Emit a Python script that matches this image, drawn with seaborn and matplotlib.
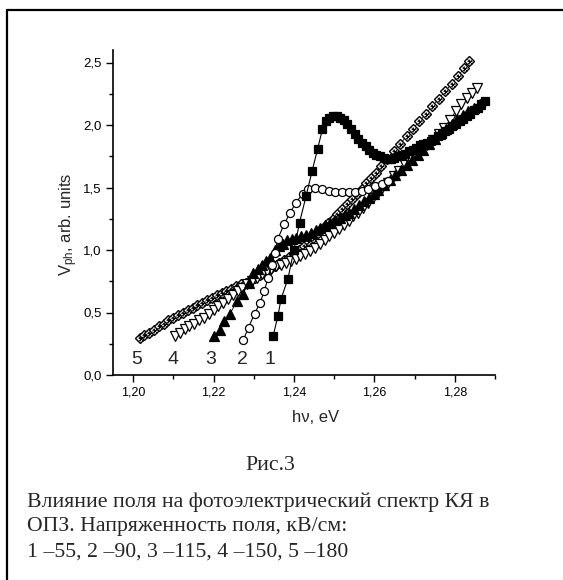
import numpy as np
import pandas as pd
import seaborn as sns
import matplotlib
matplotlib.use('Agg')
import matplotlib.pyplot as plt
from matplotlib.lines import Line2D
from matplotlib.ticker import MultipleLocator, FuncFormatter

# dados --------------------------------------------------------------------------
x1 = [1.2348, 1.2360, 1.2368, 1.2385, 1.2400, 1.2414, 1.2430, 1.2445, 1.2459, 1.2471,
      1.2480, 1.2488, 1.2497, 1.2506, 1.2515, 1.2524, 1.2533, 1.2542, 1.2551, 1.2560,
      1.2569, 1.2578, 1.2587, 1.2596, 1.2605, 1.2614, 1.2623, 1.2632, 1.2641, 1.2650,
      1.2659, 1.2668, 1.2677, 1.2686, 1.2695, 1.2704, 1.2713, 1.2722, 1.2731, 1.2740,
      1.2749, 1.2758, 1.2767, 1.2776, 1.2785, 1.2794, 1.2803, 1.2812, 1.2821, 1.2830,
      1.2839, 1.2848, 1.2857, 1.2866, 1.2875]
y1 = [0.31, 0.47, 0.61, 0.77, 1.00, 1.22, 1.43, 1.63, 1.81, 1.97,
      2.03, 2.06, 2.07, 2.07, 2.06, 2.04, 2.01, 1.97, 1.93, 1.89,
      1.86, 1.83, 1.80, 1.78, 1.76, 1.75, 1.74, 1.73, 1.73, 1.74,
      1.75, 1.76, 1.77, 1.79, 1.80, 1.82, 1.84, 1.85, 1.86, 1.87,
      1.89, 1.91, 1.93, 1.95, 1.97, 1.99, 2.01, 2.03, 2.05, 2.07,
      2.09, 2.12, 2.14, 2.17, 2.19]

x2 = [1.2274, 1.2287, 1.2302, 1.2316, 1.2326, 1.2336, 1.2345, 1.2352, 1.2360, 1.2376,
      1.2391, 1.2405, 1.2422, 1.2436, 1.2453, 1.2470, 1.2486, 1.2502, 1.2519, 1.2536,
      1.2552, 1.2569, 1.2585, 1.2602, 1.2619, 1.2635]
y2 = [0.28, 0.38, 0.49, 0.58, 0.67, 0.78, 0.88, 0.98, 1.09, 1.21,
      1.30, 1.38, 1.45, 1.485, 1.493, 1.485, 1.475, 1.467, 1.467, 1.467,
      1.467, 1.475, 1.49, 1.51, 1.53, 1.555]

x3 = [1.2202, 1.2215, 1.2227, 1.2241, 1.2258, 1.2274, 1.2287, 1.2299, 1.2310, 1.2320,
      1.2330, 1.2341, 1.2353, 1.2362, 1.2372, 1.2382, 1.2394, 1.2406, 1.2418, 1.2430,
      1.2442, 1.2454, 1.2466, 1.2478, 1.2490, 1.2502, 1.2514, 1.2526, 1.2538, 1.2550,
      1.2562, 1.2574, 1.2586, 1.2598, 1.2610, 1.2624, 1.2638, 1.2652, 1.2666, 1.2680,
      1.2694, 1.2708, 1.2722, 1.2736, 1.2750, 1.2764, 1.2778, 1.2792, 1.2806, 1.2820,
      1.2834, 1.2848, 1.2862]
y3 = [0.31, 0.36, 0.43, 0.49, 0.59, 0.65, 0.74, 0.82, 0.85, 0.88,
      0.91, 0.94, 1.00, 1.03, 1.05, 1.08, 1.09, 1.10, 1.11, 1.12,
      1.14, 1.16, 1.18, 1.20, 1.22, 1.24, 1.26, 1.28, 1.30, 1.33,
      1.36, 1.39, 1.42, 1.45, 1.48, 1.52, 1.56, 1.60, 1.64, 1.68,
      1.72, 1.76, 1.80, 1.85, 1.89, 1.93, 1.97, 2.01, 2.05, 2.08,
      2.11, 2.14, 2.17]

x4 = [1.2104, 1.2116, 1.2128, 1.2140, 1.2152, 1.2164, 1.2176, 1.2188, 1.2200, 1.2212,
      1.2224, 1.2236, 1.2248, 1.2260, 1.2272, 1.2284, 1.2296, 1.2308, 1.2320, 1.2332,
      1.2344, 1.2356, 1.2368, 1.2380, 1.2392, 1.2404, 1.2416, 1.2428, 1.2440, 1.2452,
      1.2464, 1.2476, 1.2488, 1.2500, 1.2512, 1.2524, 1.2536, 1.2548, 1.2560, 1.2572,
      1.2584, 1.2596, 1.2608, 1.2620, 1.2634, 1.2648, 1.2662, 1.2676, 1.2690, 1.2704,
      1.2718, 1.2732, 1.2746, 1.2760, 1.2774, 1.2788, 1.2802, 1.2816, 1.2830, 1.2844,
      1.2856]
y4 = [0.31, 0.34, 0.37, 0.39, 0.41, 0.44, 0.46, 0.49, 0.52, 0.55,
      0.58, 0.61, 0.64, 0.67, 0.70, 0.73, 0.75, 0.78, 0.81, 0.83,
      0.85, 0.87, 0.88, 0.90, 0.91, 0.93, 0.95, 0.97, 0.99, 1.02,
      1.05, 1.08, 1.11, 1.14, 1.17, 1.20, 1.23, 1.27, 1.30, 1.34,
      1.38, 1.42, 1.46, 1.50, 1.54, 1.59, 1.63, 1.68, 1.72, 1.76,
      1.80, 1.84, 1.88, 1.93, 1.98, 2.04, 2.11, 2.17, 2.22, 2.26,
      2.30]

x5 = [1.2017, 1.2028, 1.2040, 1.2052, 1.2064, 1.2076, 1.2088, 1.2100, 1.2112, 1.2124,
      1.2136, 1.2148, 1.2160, 1.2172, 1.2184, 1.2196, 1.2208, 1.2220, 1.2232, 1.2244,
      1.2256, 1.2268, 1.2280, 1.2292, 1.2304, 1.2316, 1.2328, 1.2340, 1.2352, 1.2364,
      1.2376, 1.2388, 1.2400, 1.2412, 1.2424, 1.2436, 1.2448, 1.2460, 1.2472, 1.2484,
      1.2496, 1.2508, 1.2520, 1.2532, 1.2544, 1.2556, 1.2568, 1.2580, 1.2592, 1.2604,
      1.2616, 1.2632, 1.2648, 1.2664, 1.2680, 1.2696, 1.2712, 1.2728, 1.2744, 1.2760,
      1.2776, 1.2792, 1.2808, 1.2824, 1.2836]
y5 = [0.30, 0.32, 0.34, 0.36, 0.39, 0.41, 0.44, 0.46, 0.48, 0.50,
      0.52, 0.54, 0.56, 0.58, 0.60, 0.62, 0.64, 0.655, 0.675, 0.69,
      0.71, 0.725, 0.74, 0.76, 0.78, 0.80, 0.82, 0.845, 0.87, 0.895,
      0.92, 0.945, 0.97, 1.00, 1.03, 1.07, 1.10, 1.14, 1.18, 1.22,
      1.25, 1.29, 1.33, 1.37, 1.41, 1.45, 1.49, 1.54, 1.58, 1.62,
      1.67, 1.73, 1.79, 1.85, 1.91, 1.97, 2.03, 2.09, 2.15, 2.21,
      2.27, 2.33, 2.39, 2.46, 2.51]

rotulos = ['5', '4', '3', '2', '1']
rotulos_x = [1.2009, 1.2098, 1.2194, 1.2272, 1.2341]
rotulos_y = 0.12

legenda = ['Рис.3',
           'Влияние поля на фотоэлектрический спектр КЯ в',
           'ОПЗ. Напряженность поля, кВ/см:',
           '1 –55, 2 –90, 3 –115, 4 –150, 5 –180']

# gráfico -------------------------------------------------------------------------
W, H = 563, 580
sns.set_style('ticks')
plt.rcParams['font.family'] = ['Liberation Sans', 'DejaVu Sans']
plt.rcParams['mathtext.default'] = 'regular'

fig = plt.figure(figsize=(W / 100, H / 100), dpi=100)
fig.patch.set_facecolor('white')

def fx(px):
    return px / W

def fy(py):
    return 1 - py / H

ax = fig.add_axes([fx(113), fy(375), fx(495) - fx(113), fy(50) - fy(375)])

def curva(x, y, marker, face, ms, lw=0.8, mew=0.9):
    sns.lineplot(x=x, y=y, ax=ax, sort=False, estimator=None, color='black',
                 linewidth=lw, marker=marker, markersize=ms,
                 markerfacecolor=face, markeredgecolor='black', markeredgewidth=mew)

# curva 5: losango com cruz
curva(x5, y5, 'D', 'white', 4.6, lw=0.6, mew=1.0)
for m in ['+', 'x']:
    sns.lineplot(x=x5, y=y5, ax=ax, sort=False, estimator=None, color='black', linewidth=0,
                 marker=m, markersize=3.6, markeredgewidth=0.6, markeredgecolor='black')
curva(x4, y4, 'v', 'white', 6.8, lw=0.6)
curva(x3, y3, '^', 'black', 6.8, lw=0.6)
curva(x2, y2, 'o', 'white', 5.8)
curva(x1, y1, 's', 'black', 5.2)

for r, xr in zip(rotulos, rotulos_x):
    ax.text(xr, rotulos_y, r, ha='center', va='center', fontsize=14)

ax.set_xlim(1.195, 1.29)
ax.set_ylim(0, 2.6)
ax.xaxis.set_major_locator(MultipleLocator(0.02))
ax.xaxis.set_minor_locator(MultipleLocator(0.01))
ax.yaxis.set_major_locator(MultipleLocator(0.5))
ax.yaxis.set_minor_locator(MultipleLocator(0.25))
ax.xaxis.set_major_formatter(FuncFormatter(lambda v, p: f'{v:.2f}'.replace('.', ',')))
ax.yaxis.set_major_formatter(FuncFormatter(lambda v, p: f'{v:.1f}'.replace('.', ',')))
ax.tick_params(which='major', direction='out', length=5, width=1, colors='black')
ax.tick_params(which='minor', direction='out', length=3, width=1, colors='black')
ax.tick_params(axis='x', labelsize=9, pad=3)
ax.tick_params(axis='y', labelsize=9.5, pad=3)
ax.set_xlabel('')
ax.set_ylabel('')
sns.despine(ax=ax)
for s in ['left', 'bottom']:
    ax.spines[s].set_linewidth(1.2)
    ax.spines[s].set_color('black')

fig.text(fx(69), fy(224), r'V$_{ph}$, arb. units', rotation=90, ha='center', va='center',
         fontsize=12)
fig.text(fx(316), fy(418), 'hν, eV', ha='center', va='center', fontsize=12)

# moldura
fig.add_artist(Line2D([fx(7), 1], [fy(10), fy(10)], color='black', lw=1.6))
fig.add_artist(Line2D([fx(7), fx(7)], [fy(10), 0], color='black', lw=1.6))

# legenda da figura
fig.text(fx(270), fy(466), legenda[0], ha='center', va='center', fontsize=15.7,
         family=['Liberation Serif', 'DejaVu Serif'])
for i, linha in enumerate(legenda[1:]):
    fig.text(fx(27), fy(502 + 25 * i), linha, ha='left', va='center', fontsize=15.7,
             family=['Liberation Serif', 'DejaVu Serif'])

fig.savefig('out.png', dpi=100, facecolor='white')
